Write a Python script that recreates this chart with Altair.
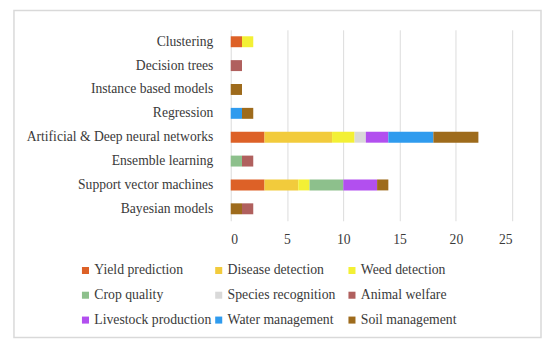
import altair as alt
import pandas as pd

categories = ["Clustering", "Decision trees", "Instance based models", "Regression",
              "Artificial & Deep neural networks", "Ensemble learning",
              "Support vector machines", "Bayesian models"]

series = ["Yield prediction", "Disease detection", "Weed detection",
          "Crop quality", "Species recognition", "Animal welfare",
          "Livestock production", "Water management", "Soil management"]

yield_prediction     = [1, 0, 0, 0, 3, 0, 3, 0]
disease_detection    = [0, 0, 0, 0, 6, 0, 3, 0]
weed_detection       = [1, 0, 0, 0, 2, 0, 1, 0]
crop_quality         = [0, 0, 0, 0, 0, 1, 3, 0]
species_recognition  = [0, 0, 0, 0, 1, 0, 0, 0]
animal_welfare       = [0, 1, 0, 0, 0, 1, 0, 1]
livestock_production = [0, 0, 0, 0, 2, 0, 3, 0]
water_management     = [0, 0, 0, 1, 4, 0, 0, 0]
soil_management      = [0, 0, 1, 1, 4, 0, 1, 1]

colors = ["#DD6127", "#F2CB3C", "#F3F035", "#8DC08C", "#D9D9D9",
          "#B0605E", "#B24FEF", "#2F9BEE", "#9E6B1C"]

x_ticks = [0, 5, 10, 15, 20, 25]

all_values = [yield_prediction, disease_detection, weed_detection, crop_quality,
              species_recognition, animal_welfare, livestock_production,
              water_management, soil_management]

rows = []
for si, (s, vals) in enumerate(zip(series, all_values)):
    for ci, (c, v) in enumerate(zip(categories, vals)):
        if v > 0:
            order = si
            if c == "Bayesian models" and s == "Soil management":
                order = -1
            rows.append({"category": c, "series": s, "value": v, "ord": order})
df = pd.DataFrame(rows)

FONT = "Liberation Serif"
TXT = "#3A3A3A"
FS = 13.7
LFS = 13.8

bars = alt.Chart(df).mark_bar(size=11).encode(
    y=alt.Y("category:N", sort=categories, title=None,
            axis=alt.Axis(labelFont=FONT, labelFontSize=FS, labelColor=TXT,
                          ticks=False, domain=False, labelPadding=18,
                          labelLimit=400)),
    x=alt.X("sum(value):Q", title=None, stack="zero",
            scale=alt.Scale(domain=[0, 25], nice=False),
            axis=alt.Axis(values=x_ticks, labelFont=FONT, labelFontSize=FS,
                          labelColor=TXT, ticks=False, domain=False,
                          labelPadding=12, gridColor="#DCDCDC")),
    color=alt.Color("series:N", sort=series,
                    scale=alt.Scale(domain=series, range=colors),
                    legend=alt.Legend(title=None, orient="none", columns=3,
                                      direction="horizontal",
                                      legendX=-153, legendY=235,
                                      symbolType="square", symbolSize=50,
                                      symbolStrokeWidth=0, labelOffset=2,
                                      labelFont=FONT, labelFontSize=LFS,
                                      labelColor=TXT, rowPadding=10,
                                      columnPadding=0, gridAlign="all",
                                      labelLimit=300)),
    order=alt.Order("ord:Q"),
)

border = alt.Chart(pd.DataFrame({"a": [0]})).mark_rect(
    fill=None, stroke="#D9D9D9", strokeWidth=1.5
).encode(
    x=alt.value(-218), x2=alt.value(312), y=alt.value(-19.5), y2=alt.value(309.5)
)

chart = alt.layer(border, bars).properties(
    width=283, height=192,
    padding={"left": 5, "top": 0, "right": 0, "bottom": 0},
).configure_view(stroke=None)

chart.save("out.html", embed_options={"renderer": "svg", "actions": False})
